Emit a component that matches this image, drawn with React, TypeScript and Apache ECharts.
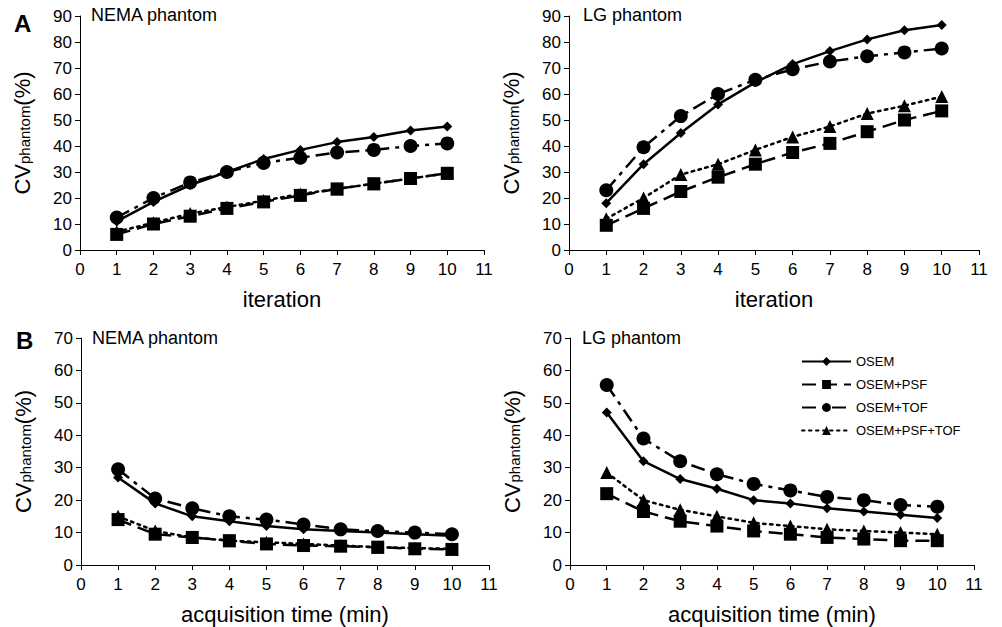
import React, { useEffect, useRef } from "react";
import * as echarts from "echarts";

const steps = [1, 2, 3, 4, 5, 6, 7, 8, 9, 10];
const seriesNames = ["OSEM", "OSEM+PSF", "OSEM+TOF", "OSEM+PSF+TOF"];

// Panel A, NEMA phantom (iteration)
const aNemaOsem = [11, 18.5, 25, 30, 35, 38.5, 41.5, 43.5, 46, 47.5];
const aNemaPsf = [6, 10, 13, 16, 18.5, 21, 23.5, 25.5, 27.5, 29.5];
const aNemaTof = [12.5, 20, 26, 30, 33.5, 35.5, 37.5, 38.5, 40, 41];
const aNemaPsfTof = [7, 10.5, 14, 16.5, 19, 21.5, 23.5, 25.5, 27.5, 29.5];

// Panel A, LG phantom (iteration)
const aLgOsem = [18, 33, 45, 56, 64.5, 71.5, 76.5, 81, 84.5, 86.5];
const aLgPsf = [9.5, 16, 22.5, 28, 33, 37.5, 41, 45.5, 50, 53.5];
const aLgTof = [23, 39.5, 51.5, 60, 65.5, 69.5, 72.5, 74.5, 76, 77.5];
const aLgPsfTof = [12, 20, 29, 33, 38.5, 43.5, 47.5, 52.5, 55.5, 59];

// Panel B, NEMA phantom (acquisition time)
const bNemaOsem = [27, 19, 15, 13.5, 12, 11, 10.5, 10, 9.5, 9];
const bNemaPsf = [14, 9.5, 8.5, 7.5, 6.5, 6, 5.8, 5.5, 5, 4.8];
const bNemaTof = [29.5, 20.5, 17.5, 15, 14, 12.5, 11, 10.5, 10, 9.5];
const bNemaPsfTof = [15, 10.5, 8.5, 7.5, 7, 6.5, 6, 5.5, 5.2, 5];

// Panel B, LG phantom (acquisition time)
const bLgOsem = [47, 32, 26.5, 23.5, 20, 19, 17.5, 16.5, 15.5, 14.5];
const bLgPsf = [22, 16.5, 13.5, 12, 10.5, 9.5, 8.5, 8, 7.5, 7.5];
const bLgTof = [55.5, 39, 32, 28, 25, 23, 21, 20, 18.5, 18];
const bLgPsfTof = [28.5, 20, 17, 15, 13, 12, 11, 10.5, 10, 9.5];

const xTicks = [0, 1, 2, 3, 4, 5, 6, 7, 8, 9, 10, 11];

const FONT = "Liberation Sans, Arial, sans-serif";

export default function App() {
  const ref = useRef<HTMLDivElement>(null);
  useEffect(() => {
    document.body.style.margin = "0";
    if (!ref.current) return;
    const chart = echarts.init(ref.current, null, { renderer: "svg" });

    const grids = [
      { left: 80, top: 16, width: 404, height: 234 },
      { left: 569, top: 16, width: 410, height: 234 },
      { left: 81, top: 338, width: 408, height: 227 },
      { left: 570, top: 338, width: 404, height: 227 },
    ];
    const yMax = [90, 90, 70, 70];
    const xNames = ["iteration", "iteration", "acquisition time (min)", "acquisition time (min)"];

    const styles = [
      { type: "solid" as any, symbol: "diamond", size: 10 },
      { type: [14, 7] as any, symbol: "rect", size: 13 },
      { type: [14, 6, 4, 6] as any, symbol: "circle", size: 14 },
      { type: [2.5, 4.5] as any, symbol: "triangle", size: 13 },
    ];
    const panels = [
      [aNemaOsem, aNemaPsf, aNemaTof, aNemaPsfTof],
      [aLgOsem, aLgPsf, aLgTof, aLgPsfTof],
      [bNemaOsem, bNemaPsf, bNemaTof, bNemaPsfTof],
      [bLgOsem, bLgPsf, bLgTof, bLgPsfTof],
    ];

    const axisBase = {
      axisLine: { show: true, lineStyle: { color: "#000", width: 1 } },
      axisTick: { show: true, inside: false, length: 5, lineStyle: { color: "#000" } },
      splitLine: { show: false },
      axisLabel: { color: "#000", fontSize: 17, fontFamily: FONT },
    };

    const xAxis = grids.map((_, i) => ({
      ...axisBase,
      type: "value",
      gridIndex: i,
      min: xTicks[0],
      max: xTicks[xTicks.length - 1],
      interval: 1,
      axisLabel: { ...axisBase.axisLabel, margin: 11 },
      name: xNames[i],
      nameLocation: "middle",
      nameGap: 38,
      nameTextStyle: { color: "#000", fontSize: 22, fontFamily: FONT },
    }));
    const yAxis = grids.map((_, i) => ({
      ...axisBase,
      type: "value",
      gridIndex: i,
      min: 0,
      max: yMax[i],
      interval: 10,
      axisLabel: { ...axisBase.axisLabel, margin: 8 },
      name: "{cv|CV}{sub|phantom}{cv|(%)}",
      nameLocation: "middle",
      nameGap: 47,
      nameTextStyle: {
        color: "#000",
        fontFamily: FONT,
        rich: {
          cv: { fontSize: 22, fontFamily: FONT, color: "#000" },
          sub: { fontSize: 15, fontFamily: FONT, color: "#000", padding: [0, 0, -4, 0] },
        },
      },
    }));

    const series: any[] = [];
    panels.forEach((p, gi) => {
      p.forEach((vals, si) => {
        const st = styles[si];
        series.push({
          type: "line",
          name: seriesNames[si],
          xAxisIndex: gi,
          yAxisIndex: gi,
          data: steps.map((x, k) => [x, vals[k]]),
          symbol: st.symbol,
          symbolSize: st.size,
          showSymbol: true,
          lineStyle: { color: "#000", width: 2.5, type: st.type, cap: si === 3 ? "round" : "butt" },
          itemStyle: { color: "#000" },
          z: 10 - si,
        });
      });
    });

    const titleStyle = { color: "#000", fontSize: 18, fontFamily: FONT, fontWeight: "normal" as const };
    const letterStyle = { color: "#000", fontSize: 24, fontFamily: FONT, fontWeight: "bold" as const };

    chart.setOption({
      animation: false,
      backgroundColor: "#fff",
      title: [
        { text: "NEMA phantom", left: 86, top: 1, textStyle: titleStyle },
        { text: "LG phantom", left: 578, top: 1, textStyle: titleStyle },
        { text: "NEMA phantom", left: 87, top: 324, textStyle: titleStyle },
        { text: "LG phantom", left: 577, top: 324, textStyle: titleStyle },
        { text: "A", left: 9, top: 6, textStyle: letterStyle },
        { text: "B", left: 11, top: 323, textStyle: letterStyle },
      ],
      legend: {
        orient: "vertical",
        left: 801,
        top: 355,
        padding: 0,
        itemWidth: 49,
        itemHeight: 11,
        itemGap: 10,
        data: seriesNames,
        textStyle: { color: "#000", fontSize: 13, fontFamily: FONT },
      },
      grid: grids,
      xAxis,
      yAxis,
      series,
    });
    return () => chart.dispose();
  }, []);
  return <div ref={ref} style={{ width: 1002, height: 627 }} />;
}
